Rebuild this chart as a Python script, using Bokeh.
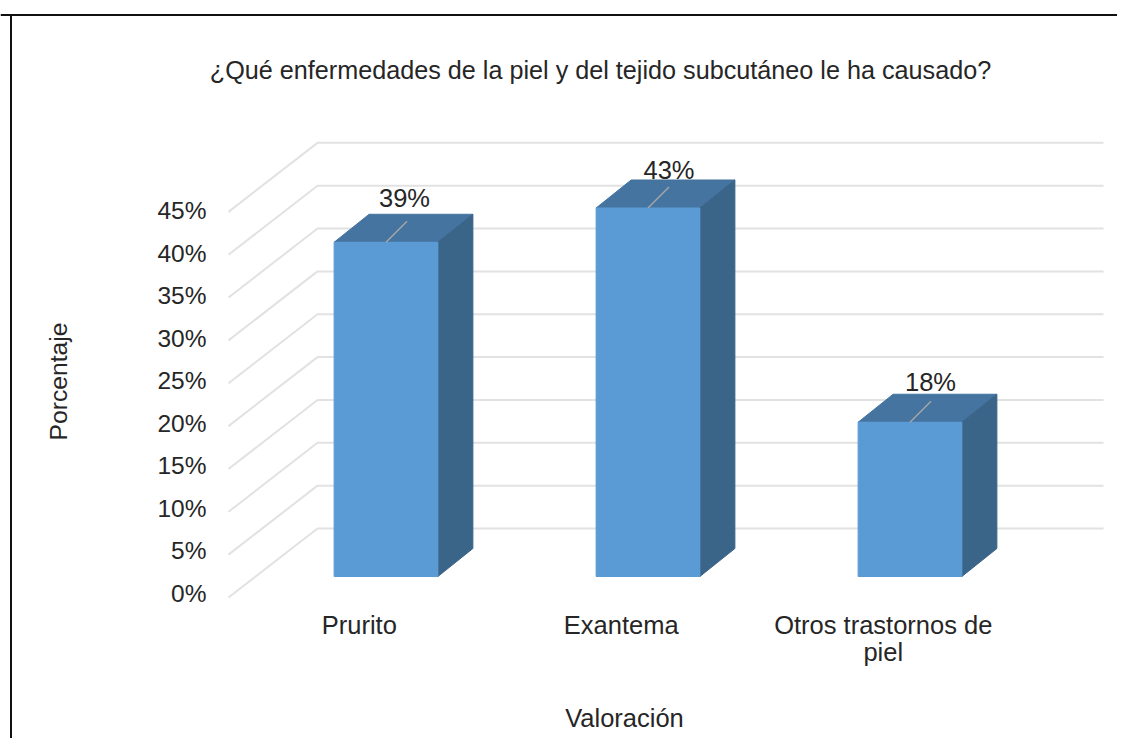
from bokeh.plotting import figure
from bokeh.embed import file_html
from bokeh.resources import INLINE
from bokeh.models import Range1d, LinearAxis, FixedTicker, Label

categories = ["Prurito", "Exantema", "Otros trastornos de\npiel"]
values = [39, 43, 18]
value_labels = ["39%", "43%", "18%"]
y_ticks = [0, 5, 10, 15, 20, 25, 30, 35, 40, 45]
y_tick_labels = ["0%", "5%", "10%", "15%", "20%", "25%", "30%", "35%", "40%", "45%"]
title_text = "¿Qué enfermedades de la piel y del tejido subcutáneo le ha causado?"
x_title = "Valoración"
y_title = "Porcentaje"

W, H = 1117, 738
PX_U = 262.0      # px per category step
PX_V = 8.57       # px per percent
X0 = 385.5        # x of category 0 bar centre
Y0 = 597.0        # y of 0% at the front of the floor

def ux(px):
    return (px - X0) / PX_U

def vy(py):
    return (Y0 - py) / PX_V

FONT = "Liberation Sans"
TXT = "#262626"
FS = "25.5px"

p = figure(width=W, height=H, output_backend="svg", toolbar_location=None,
           x_range=Range1d(ux(0), ux(W)), y_range=Range1d(vy(H), vy(0)),
           min_border=0, min_border_left=0, min_border_right=0,
           min_border_top=0, min_border_bottom=0, x_axis_type=None, y_axis_type=None)
p.grid.visible = False
p.outline_line_color = None
p.background_fill_color = "white"

# second scale for the value axis labels
p.extra_y_ranges = {"lab": Range1d((593 - H) / 8.51, 593 / 8.51)}

yax = LinearAxis(y_range_name="lab", ticker=FixedTicker(ticks=y_ticks),
                 major_label_overrides={t: l for t, l in zip(y_ticks, y_tick_labels)},
                 major_tick_line_color=None, minor_tick_line_color=None, axis_line_color=None,
                 major_label_text_font=FONT, major_label_text_font_size="24.5px",
                 major_label_text_color=TXT, major_label_standoff=6,
                 fixed_location=ux(218))
p.add_layout(yax, "left")

label_shift = -0.102
x_ticks = [i + label_shift for i in range(len(categories))]
xax = LinearAxis(ticker=FixedTicker(ticks=x_ticks),
                 major_label_overrides={t: l.split("\n")[0] for t, l in zip(x_ticks, categories)},
                 major_tick_line_color=None, minor_tick_line_color=None, axis_line_color=None,
                 major_label_text_font=FONT, major_label_text_font_size=FS,
                 major_label_text_color=TXT, major_label_standoff=6,
                 fixed_location=vy(598))
p.add_layout(xax, "below")

# walls
GRID = "#E2E2E2"
wx0, wx1, wx2 = ux(228), ux(317), ux(1103)
wd = 69 / PX_V
for t in y_ticks:
    p.line([wx0, wx1, wx2], [t, t + wd, t + wd], line_color=GRID, line_width=2)

# bars
half = 0.198
dx = 35.0 / PX_U
dy = 28 / PX_V
base = (Y0 - 576) / PX_V
label_dx = [18.5, 21, 20.5]
label_dy = [44, 38, 40]
for i, v in enumerate(values):
    top = base + v
    l, r = i - half, i + half
    p.patch([l, r, r + dx, l + dx], [top, top, top + dy, top + dy],
            fill_color="#44749F", line_color="#44749F")
    p.patch([r, r + dx, r + dx, r], [base, base + dy, top + dy, top],
            fill_color="#3A6488", line_color="#3A6488")
    p.quad(left=l, right=r, bottom=base, top=top, fill_color="#5B9BD5", line_color="#5B9BD5")
    cx = i
    p.line([cx, cx + 21 / PX_U], [top, top + 21 / PX_V], line_color="#A6A6A6", line_width=1.5)
    p.add_layout(Label(x=i + label_dx[i] / PX_U, y=top + label_dy[i] / PX_V, text=value_labels[i],
                       text_align="center", text_baseline="middle",
                       text_font=FONT, text_font_size=FS, text_color=TXT))

def page_label(text, px, py, angle=0, size=FS):
    p.add_layout(Label(x=px, y=H - py, x_units="screen", y_units="screen", text=text,
                       text_align="center", text_baseline="middle", angle=angle,
                       text_font=FONT, text_font_size=size, text_color=TXT))

page_label(title_text, 600, 69, size="25.2px")
page_label(x_title, 624, 717)
page_label(y_title, 58, 381, angle=1.5708, size="24.7px")
for i, c in enumerate(categories):
    for k, extra in enumerate(c.split("\n")[1:]):
        page_label(extra, X0 + (i + label_shift) * PX_U, 651 + 26 * k)

# frame of the picture: top and left edges only
p.segment(x0=[ux(0), ux(10.5)], y0=[vy(14.5), vy(14.5)],
          x1=[ux(W), ux(10.5)], y1=[vy(14.5), vy(H)],
          line_color="#111111", line_width=2)

open("out.html", "w").write(file_html(p, INLINE))
